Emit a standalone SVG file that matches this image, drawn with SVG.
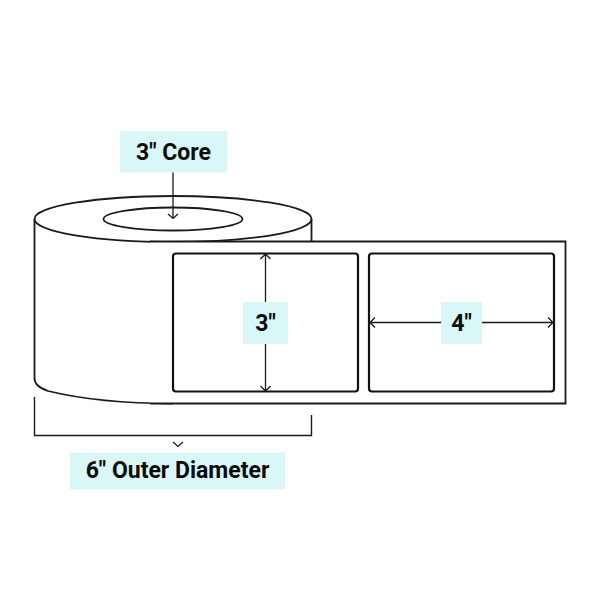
<svg xmlns="http://www.w3.org/2000/svg" width="600" height="600" viewBox="0 0 600 600">
<style>
.l{fill:none;stroke:#1a1a1a;stroke-width:1.800}
.k{fill:none;stroke:#1a1a1a;stroke-width:1.400}
.s{fill:none;stroke:#111;stroke-width:2.200;}
.a{fill:none;stroke:#1a1a1a;stroke-width:1.300}
.b{fill:#d9f7f7}
text{font-family:Roboto,"Liberation Sans",sans-serif;font-weight:700;font-size:23px;fill:#0a0a0a;text-anchor:middle}
</style>
<rect width="600" height="600" fill="#fff"/>
<g id="roll">
<path class="l" d="M34.500 219V378C34.500 384 38 387 48 391C85 400 130 403.500 173 403.500"/>
<path class="l" d="M311.500 219V241.500"/>
<ellipse class="l" cx="173" cy="219" rx="138.500" ry="23"/>
<ellipse class="l" cx="173" cy="219" rx="69.500" ry="11.500"/>
</g>
<g id="sheet">
<rect x="150" y="241.500" width="416" height="162" fill="#fff" stroke="none"/>
<path class="l" d="M150 241.500H565.500V403.500H150"/>
</g>
<g id="label-left"><rect class="s" x="173" y="253.500" width="185" height="138" rx="3"/></g>
<g id="label-right"><rect class="s" x="369" y="253.500" width="185" height="138" rx="3"/></g>
<g id="connectors">
<path class="a" d="M173 172V218M168 214L173 218.500L178 214"/>
<path class="a" d="M265.500 254V391M260.500 259L265.500 254L270.500 259M260.500 386L265.500 391L270.500 386"/>
<path class="a" d="M370 322.500H553M375 317.500L370 322.500L375 327.500M548 317.500L553 322.500L548 327.500"/>
<path class="k" d="M34.500 397V435.500H311.500V415"/>
<path class="a" d="M173 442L178 446.500L183 442"/>
</g>
<g id="core-label"><rect class="b" x="120" y="131" width="107" height="41.500"/><text x="173.500" y="160">3" Core</text></g>
<g id="height-label"><rect class="b" x="243" y="302" width="45" height="42"/><text x="265.500" y="330.500">3"</text></g>
<g id="width-label"><rect class="b" x="441" y="302" width="41" height="42"/><text x="461.500" y="330.500">4"</text></g>
<g id="diameter-label"><rect class="b" x="70" y="452.500" width="215" height="37"/><text x="177.500" y="478">6" Outer Diameter</text></g>
</svg>
